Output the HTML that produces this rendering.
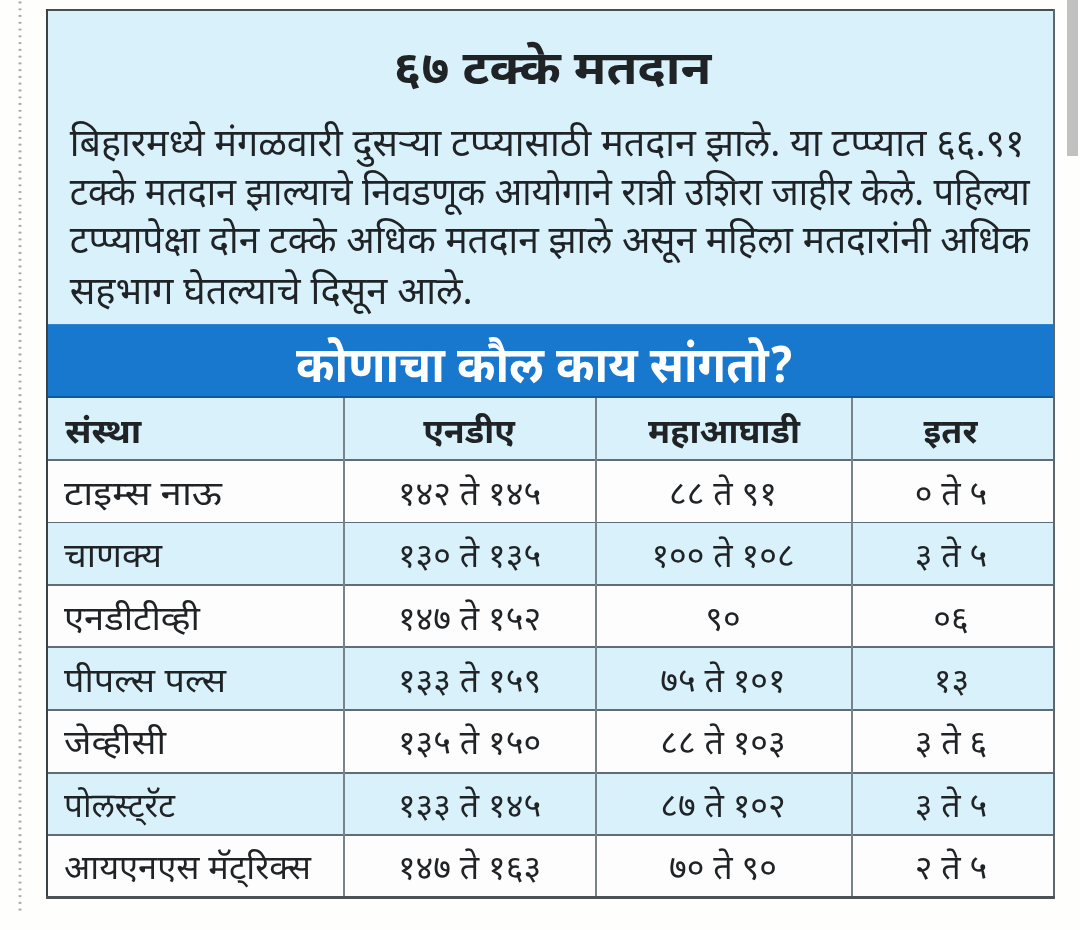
<!DOCTYPE html><html lang="mr"><head><meta charset="utf-8"><title>६७ टक्के मतदान</title><style>
html,body{margin:0;padding:0}
body{width:1080px;height:930px;position:relative;overflow:hidden;background:#fefefd;font-family:"Liberation Sans",sans-serif}
.abs{position:absolute}
#bar{left:1067px;top:0;width:11px;height:156px;background:#c1c1c1}
#rightwhite{left:1056px;top:0;width:24px;height:930px;background:#ffffff}
#frame{left:45.6px;top:9px;width:1009.9px;height:889.6px;background:#474f55}
#fl{left:45.6px;top:9px;width:2.4px;height:889.6px;background:#3b4349}
#fr{left:1052.6px;top:9px;width:2.9px;height:889.6px;background:#5d6770}
#fb{left:45.6px;top:895.8px;width:1009.9px;height:2.8px;background:#4d5256}
#bandtop{left:48px;top:323.6px;width:1004.6px;height:1.4px;background:#2e86d2}
#bandbot{left:48px;top:396.2px;width:1004.6px;height:2px;background:#13589a}
#top{left:48px;top:11px;width:1004.6px;height:313px;background:#d9f1fb}
#band{left:48px;top:324px;width:1004.6px;height:74px;background:#1878cd}
.row{left:48px;width:1004.6px}
.hl{left:48px;width:1004.6px;height:1.7px;background:#616d74}
.vl{top:398px;width:1.5px;height:498px;background:#78838a}
.t{position:absolute;color:transparent;white-space:nowrap;overflow:hidden;margin:0;padding:0;line-height:1;font-weight:normal}
.tt{border-collapse:collapse;table-layout:fixed;width:1004px;color:transparent;font-size:30px;line-height:1}
.tt th,.tt td{height:62px;padding:0;border:0;text-align:center;white-space:nowrap;overflow:hidden;font-weight:normal}
.tt th:first-child,.tt td:first-child{text-align:left;padding-left:17px}
svg{position:absolute;left:0;top:0;filter:blur(0.55px)}
svg text{font-family:"Noto Sans Devanagari","Lohit Devanagari","Liberation Sans",sans-serif}
</style></head><body><div id="bar" class="abs"></div><div id="frame" class="abs"></div><div id="top" class="abs"></div><div id="band" class="abs"></div><div id="bandtop" class="abs"></div><div id="bandbot" class="abs"></div><div class="abs row" style="top:398px;height:62px;background:#d9f1fb"></div><div class="abs row" style="top:460px;height:62.39999999999998px;background:#fdfdfd"></div><div class="abs row" style="top:522.4px;height:62.39999999999998px;background:#d9f1fb"></div><div class="abs row" style="top:584.8px;height:62.40000000000009px;background:#fdfdfd"></div><div class="abs row" style="top:647.2px;height:62.59999999999991px;background:#d9f1fb"></div><div class="abs row" style="top:709.8px;height:62.80000000000007px;background:#fdfdfd"></div><div class="abs row" style="top:772.6px;height:62.60000000000002px;background:#d9f1fb"></div><div class="abs row" style="top:835.2px;height:60.799999999999955px;background:#fdfdfd"></div><div class="abs hl" style="top:459.25px"></div><div class="abs hl" style="top:521.65px"></div><div class="abs hl" style="top:584.05px"></div><div class="abs hl" style="top:646.45px"></div><div class="abs hl" style="top:709.05px"></div><div class="abs hl" style="top:771.85px"></div><div class="abs hl" style="top:834.45px"></div><div class="abs vl" style="left:343.0px"></div><div class="abs vl" style="left:595.3000000000001px"></div><div class="abs vl" style="left:851.3000000000001px"></div><div id="fl" class="abs"></div><div id="fr" class="abs"></div><div id="fb" class="abs"></div><svg width="1080" height="930" viewBox="0 0 1080 930"><g fill="#adadad"><ellipse cx="20" cy="2.5" rx="1.7" ry="1.15"/><ellipse cx="20" cy="9.3" rx="1.7" ry="1.15"/><ellipse cx="20" cy="16.0" rx="1.7" ry="1.15"/><ellipse cx="20" cy="22.8" rx="1.7" ry="1.15"/><ellipse cx="20" cy="29.6" rx="1.7" ry="1.15"/><ellipse cx="20" cy="36.3" rx="1.7" ry="1.15"/><ellipse cx="20" cy="43.1" rx="1.7" ry="1.15"/><ellipse cx="20" cy="49.9" rx="1.7" ry="1.15"/><ellipse cx="20" cy="56.7" rx="1.7" ry="1.15"/><ellipse cx="20" cy="63.4" rx="1.7" ry="1.15"/><ellipse cx="20" cy="70.2" rx="1.7" ry="1.15"/><ellipse cx="20" cy="77.0" rx="1.7" ry="1.15"/><ellipse cx="20" cy="83.7" rx="1.7" ry="1.15"/><ellipse cx="20" cy="90.5" rx="1.7" ry="1.15"/><ellipse cx="20" cy="97.3" rx="1.7" ry="1.15"/><ellipse cx="20" cy="104.0" rx="1.7" ry="1.15"/><ellipse cx="20" cy="110.8" rx="1.7" ry="1.15"/><ellipse cx="20" cy="117.6" rx="1.7" ry="1.15"/><ellipse cx="20" cy="124.4" rx="1.7" ry="1.15"/><ellipse cx="20" cy="131.1" rx="1.7" ry="1.15"/><ellipse cx="20" cy="137.9" rx="1.7" ry="1.15"/><ellipse cx="20" cy="144.7" rx="1.7" ry="1.15"/><ellipse cx="20" cy="151.4" rx="1.7" ry="1.15"/><ellipse cx="20" cy="158.2" rx="1.7" ry="1.15"/><ellipse cx="20" cy="165.0" rx="1.7" ry="1.15"/><ellipse cx="20" cy="171.8" rx="1.7" ry="1.15"/><ellipse cx="20" cy="178.5" rx="1.7" ry="1.15"/><ellipse cx="20" cy="185.3" rx="1.7" ry="1.15"/><ellipse cx="20" cy="192.1" rx="1.7" ry="1.15"/><ellipse cx="20" cy="198.8" rx="1.7" ry="1.15"/><ellipse cx="20" cy="205.6" rx="1.7" ry="1.15"/><ellipse cx="20" cy="212.4" rx="1.7" ry="1.15"/><ellipse cx="20" cy="219.1" rx="1.7" ry="1.15"/><ellipse cx="20" cy="225.9" rx="1.7" ry="1.15"/><ellipse cx="20" cy="232.7" rx="1.7" ry="1.15"/><ellipse cx="20" cy="239.4" rx="1.7" ry="1.15"/><ellipse cx="20" cy="246.2" rx="1.7" ry="1.15"/><ellipse cx="20" cy="253.0" rx="1.7" ry="1.15"/><ellipse cx="20" cy="259.8" rx="1.7" ry="1.15"/><ellipse cx="20" cy="266.5" rx="1.7" ry="1.15"/><ellipse cx="20" cy="273.3" rx="1.7" ry="1.15"/><ellipse cx="20" cy="280.1" rx="1.7" ry="1.15"/><ellipse cx="20" cy="286.8" rx="1.7" ry="1.15"/><ellipse cx="20" cy="293.6" rx="1.7" ry="1.15"/><ellipse cx="20" cy="300.4" rx="1.7" ry="1.15"/><ellipse cx="20" cy="307.1" rx="1.7" ry="1.15"/><ellipse cx="20" cy="313.9" rx="1.7" ry="1.15"/><ellipse cx="20" cy="320.7" rx="1.7" ry="1.15"/><ellipse cx="20" cy="327.5" rx="1.7" ry="1.15"/><ellipse cx="20" cy="334.2" rx="1.7" ry="1.15"/><ellipse cx="20" cy="341.0" rx="1.7" ry="1.15"/><ellipse cx="20" cy="347.8" rx="1.7" ry="1.15"/><ellipse cx="20" cy="354.5" rx="1.7" ry="1.15"/><ellipse cx="20" cy="361.3" rx="1.7" ry="1.15"/><ellipse cx="20" cy="368.1" rx="1.7" ry="1.15"/><ellipse cx="20" cy="374.8" rx="1.7" ry="1.15"/><ellipse cx="20" cy="381.6" rx="1.7" ry="1.15"/><ellipse cx="20" cy="388.4" rx="1.7" ry="1.15"/><ellipse cx="20" cy="395.2" rx="1.7" ry="1.15"/><ellipse cx="20" cy="401.9" rx="1.7" ry="1.15"/><ellipse cx="20" cy="408.7" rx="1.7" ry="1.15"/><ellipse cx="20" cy="415.5" rx="1.7" ry="1.15"/><ellipse cx="20" cy="422.2" rx="1.7" ry="1.15"/><ellipse cx="20" cy="429.0" rx="1.7" ry="1.15"/><ellipse cx="20" cy="435.8" rx="1.7" ry="1.15"/><ellipse cx="20" cy="442.5" rx="1.7" ry="1.15"/><ellipse cx="20" cy="449.3" rx="1.7" ry="1.15"/><ellipse cx="20" cy="456.1" rx="1.7" ry="1.15"/><ellipse cx="20" cy="462.9" rx="1.7" ry="1.15"/><ellipse cx="20" cy="469.6" rx="1.7" ry="1.15"/><ellipse cx="20" cy="476.4" rx="1.7" ry="1.15"/><ellipse cx="20" cy="483.2" rx="1.7" ry="1.15"/><ellipse cx="20" cy="489.9" rx="1.7" ry="1.15"/><ellipse cx="20" cy="496.7" rx="1.7" ry="1.15"/><ellipse cx="20" cy="503.5" rx="1.7" ry="1.15"/><ellipse cx="20" cy="510.2" rx="1.7" ry="1.15"/><ellipse cx="20" cy="517.0" rx="1.7" ry="1.15"/><ellipse cx="20" cy="523.8" rx="1.7" ry="1.15"/><ellipse cx="20" cy="530.6" rx="1.7" ry="1.15"/><ellipse cx="20" cy="537.3" rx="1.7" ry="1.15"/><ellipse cx="20" cy="544.1" rx="1.7" ry="1.15"/><ellipse cx="20" cy="550.9" rx="1.7" ry="1.15"/><ellipse cx="20" cy="557.6" rx="1.7" ry="1.15"/><ellipse cx="20" cy="564.4" rx="1.7" ry="1.15"/><ellipse cx="20" cy="571.2" rx="1.7" ry="1.15"/><ellipse cx="20" cy="577.9" rx="1.7" ry="1.15"/><ellipse cx="20" cy="584.7" rx="1.7" ry="1.15"/><ellipse cx="20" cy="591.5" rx="1.7" ry="1.15"/><ellipse cx="20" cy="598.3" rx="1.7" ry="1.15"/><ellipse cx="20" cy="605.0" rx="1.7" ry="1.15"/><ellipse cx="20" cy="611.8" rx="1.7" ry="1.15"/><ellipse cx="20" cy="618.6" rx="1.7" ry="1.15"/><ellipse cx="20" cy="625.3" rx="1.7" ry="1.15"/><ellipse cx="20" cy="632.1" rx="1.7" ry="1.15"/><ellipse cx="20" cy="638.9" rx="1.7" ry="1.15"/><ellipse cx="20" cy="645.6" rx="1.7" ry="1.15"/><ellipse cx="20" cy="652.4" rx="1.7" ry="1.15"/><ellipse cx="20" cy="659.2" rx="1.7" ry="1.15"/><ellipse cx="20" cy="666.0" rx="1.7" ry="1.15"/><ellipse cx="20" cy="672.7" rx="1.7" ry="1.15"/><ellipse cx="20" cy="679.5" rx="1.7" ry="1.15"/><ellipse cx="20" cy="686.3" rx="1.7" ry="1.15"/><ellipse cx="20" cy="693.0" rx="1.7" ry="1.15"/><ellipse cx="20" cy="699.8" rx="1.7" ry="1.15"/><ellipse cx="20" cy="706.6" rx="1.7" ry="1.15"/><ellipse cx="20" cy="713.3" rx="1.7" ry="1.15"/><ellipse cx="20" cy="720.1" rx="1.7" ry="1.15"/><ellipse cx="20" cy="726.9" rx="1.7" ry="1.15"/><ellipse cx="20" cy="733.7" rx="1.7" ry="1.15"/><ellipse cx="20" cy="740.4" rx="1.7" ry="1.15"/><ellipse cx="20" cy="747.2" rx="1.7" ry="1.15"/><ellipse cx="20" cy="754.0" rx="1.7" ry="1.15"/><ellipse cx="20" cy="760.7" rx="1.7" ry="1.15"/><ellipse cx="20" cy="767.5" rx="1.7" ry="1.15"/><ellipse cx="20" cy="774.3" rx="1.7" ry="1.15"/><ellipse cx="20" cy="781.0" rx="1.7" ry="1.15"/><ellipse cx="20" cy="787.8" rx="1.7" ry="1.15"/><ellipse cx="20" cy="794.6" rx="1.7" ry="1.15"/><ellipse cx="20" cy="801.4" rx="1.7" ry="1.15"/><ellipse cx="20" cy="808.1" rx="1.7" ry="1.15"/><ellipse cx="20" cy="814.9" rx="1.7" ry="1.15"/><ellipse cx="20" cy="821.7" rx="1.7" ry="1.15"/><ellipse cx="20" cy="828.4" rx="1.7" ry="1.15"/><ellipse cx="20" cy="835.2" rx="1.7" ry="1.15"/><ellipse cx="20" cy="842.0" rx="1.7" ry="1.15"/><ellipse cx="20" cy="848.8" rx="1.7" ry="1.15"/><ellipse cx="20" cy="855.5" rx="1.7" ry="1.15"/><ellipse cx="20" cy="862.3" rx="1.7" ry="1.15"/><ellipse cx="20" cy="869.1" rx="1.7" ry="1.15"/><ellipse cx="20" cy="875.8" rx="1.7" ry="1.15"/><ellipse cx="20" cy="882.6" rx="1.7" ry="1.15"/><ellipse cx="20" cy="889.4" rx="1.7" ry="1.15"/><ellipse cx="20" cy="896.1" rx="1.7" ry="1.15"/><ellipse cx="20" cy="902.9" rx="1.7" ry="1.15"/><ellipse cx="20" cy="909.7" rx="1.7" ry="1.15"/></g>
<g fill="#1f2326">
<text x="393.3" y="84.3" font-size="46" font-weight="bold" textLength="318" lengthAdjust="spacingAndGlyphs">६७ टक्के मतदान</text>
<text x="69.7" y="155.6" font-size="38" textLength="955" lengthAdjust="spacingAndGlyphs">बिहारमध्ये मंगळवारी दुसऱ्या टप्प्यासाठी मतदान झाले. या टप्प्यात ६६.९१</text>
<text x="69.7" y="204.8" font-size="38" textLength="960" lengthAdjust="spacingAndGlyphs">टक्के मतदान झाल्याचे निवडणूक आयोगाने रात्री उशिरा जाहीर केले. पहिल्या</text>
<text x="69.7" y="253.3" font-size="38" textLength="960" lengthAdjust="spacingAndGlyphs">टप्प्यापेक्षा दोन टक्के अधिक मतदान झाले असून महिला मतदारांनी अधिक</text>
<text x="69.7" y="303.8" font-size="38" textLength="403" lengthAdjust="spacingAndGlyphs">सहभाग घेतल्याचे दिसून आले.</text>
</g>
<text x="296" y="382.2" font-size="50" font-weight="bold" fill="#ffffff" textLength="498" lengthAdjust="spacingAndGlyphs">कोणाचा कौल काय सांगतो?</text>
<g fill="#1f2326" font-size="34" font-weight="bold">
<text x="65.3" y="442.5" textLength="76" lengthAdjust="spacingAndGlyphs">संस्था</text>
<text x="469" y="442.5" text-anchor="middle">एनडीए</text>
<text x="724" y="442.5" text-anchor="middle">महाआघाडी</text>
<text x="950.5" y="442.5" text-anchor="middle">इतर</text>
</g>
<g fill="#1f2326" font-size="34">
<text x="64" y="504.7" textLength="158" lengthAdjust="spacingAndGlyphs">टाइम्स नाऊ</text>
<text x="64" y="567.1" textLength="98" lengthAdjust="spacingAndGlyphs">चाणक्य</text>
<text x="64" y="629.5" textLength="136" lengthAdjust="spacingAndGlyphs">एनडीटीव्ही</text>
<text x="64" y="691.9" textLength="162" lengthAdjust="spacingAndGlyphs">पीपल्स पल्स</text>
<text x="64" y="754.3" textLength="102" lengthAdjust="spacingAndGlyphs">जेव्हीसी</text>
<text x="64" y="816.7" textLength="111" lengthAdjust="spacingAndGlyphs">पोलस्ट्रॅट</text>
<text x="64" y="879.1" textLength="247" lengthAdjust="spacingAndGlyphs">आयएनएस मॅट्रिक्स</text>
</g>
<g fill="#1f2326" font-size="34" text-anchor="middle">
<text x="469.5" y="504.7">१४२ ते १४५</text>
<text x="723" y="504.7">८८ ते ९१</text>
<text x="951" y="504.7">० ते ५</text>
<text x="469.5" y="567.1">१३० ते १३५</text>
<text x="723" y="567.1">१०० ते १०८</text>
<text x="951" y="567.1">३ ते ५</text>
<text x="469.5" y="629.5">१४७ ते १५२</text>
<text x="723" y="629.5">९०</text>
<text x="951" y="629.5">०६</text>
<text x="469.5" y="691.9">१३३ ते १५९</text>
<text x="723" y="691.9">७५ ते १०१</text>
<text x="951.5" y="691.9">१३</text>
<text x="469.5" y="754.3">१३५ ते १५०</text>
<text x="723" y="754.3">८८ ते १०३</text>
<text x="951" y="754.3">३ ते ६</text>
<text x="469.5" y="816.7">१३३ ते १४५</text>
<text x="723" y="816.7">८७ ते १०२</text>
<text x="951" y="816.7">३ ते ५</text>
<text x="469.5" y="879.1">१४७ ते १६३</text>
<text x="723" y="879.1">७० ते ९०</text>
<text x="951" y="879.1">२ ते ५</text>
</g>
</svg><h1 class="t" style="left:393px;top:37px;width:318px;height:52px;font-size:42px">६७ टक्के मतदान</h1><p class="t" style="left:70px;top:119px;width:956px;height:48px;font-size:39px">बिहारमध्ये मंगळवारी दुसऱ्या टप्प्यासाठी मतदान झाले. या टप्प्यात ६६.९१</p><p class="t" style="left:70px;top:168px;width:960px;height:48px;font-size:38px">टक्के मतदान झाल्याचे निवडणूक आयोगाने रात्री उशिरा जाहीर केले. पहिल्या</p><p class="t" style="left:70px;top:217px;width:960px;height:48px;font-size:38px">टप्प्यापेक्षा दोन टक्के अधिक मतदान झाले असून महिला मतदारांनी अधिक</p><p class="t" style="left:70px;top:267px;width:403px;height:48px;font-size:38px">सहभाग घेतल्याचे दिसून आले.</p><h2 class="t" style="left:296px;top:329px;width:498px;height:54px;font-size:43px">कोणाचा कौल काय सांगतो?</h2><div class="abs" style="left:48px;top:398px;width:1004px;height:498px;overflow:hidden"><table class="tt"><colgroup><col style="width:296px"><col style="width:252px"><col style="width:256px"><col style="width:200px"></colgroup><thead><tr><th>संस्था</th><th>एनडीए</th><th>महाआघाडी</th><th>इतर</th></tr></thead><tbody><tr><td>टाइम्स नाऊ</td><td>१४२ ते १४५</td><td>८८ ते ९१</td><td>० ते ५</td></tr><tr><td>चाणक्य</td><td>१३० ते १३५</td><td>१०० ते १०८</td><td>३ ते ५</td></tr><tr><td>एनडीटीव्ही</td><td>१४७ ते १५२</td><td>९०</td><td>०६</td></tr><tr><td>पीपल्स पल्स</td><td>१३३ ते १५९</td><td>७५ ते १०१</td><td>१३</td></tr><tr><td>जेव्हीसी</td><td>१३५ ते १५०</td><td>८८ ते १०३</td><td>३ ते ६</td></tr><tr><td>पोलस्ट्रॅट</td><td>१३३ ते १४५</td><td>८७ ते १०२</td><td>३ ते ५</td></tr><tr><td>आयएनएस मॅट्रिक्स</td><td>१४७ ते १६३</td><td>७० ते ९०</td><td>२ ते ५</td></tr></tbody></table></div></body></html>
